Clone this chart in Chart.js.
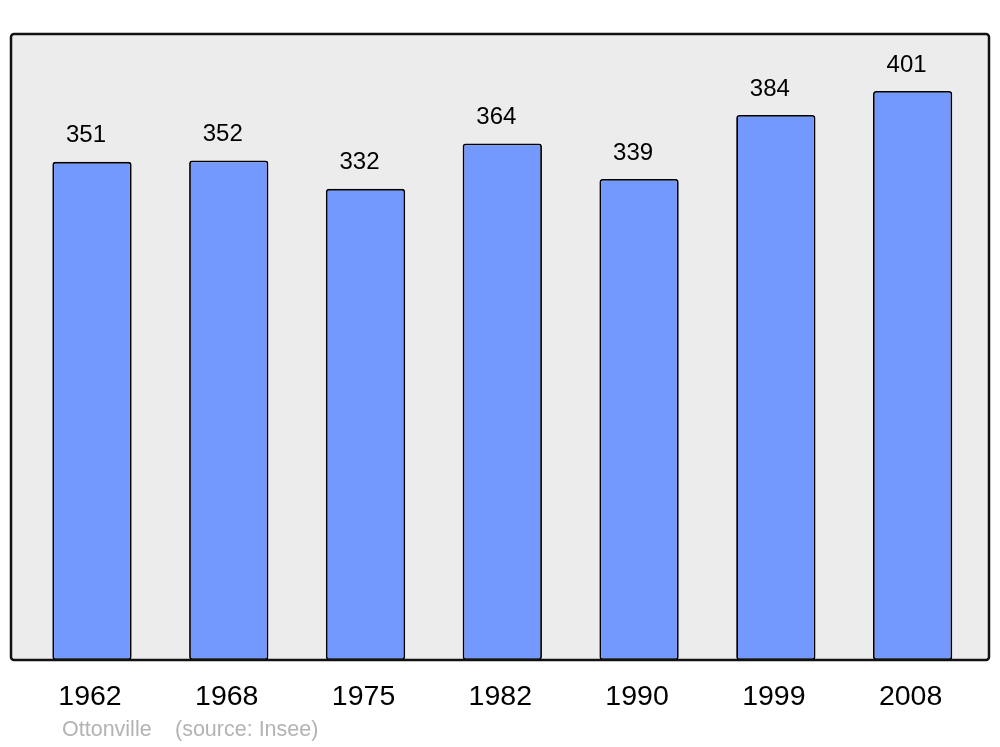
<!DOCTYPE html>
<html>
<head>
<meta charset="utf-8">
<script src="https://cdn.jsdelivr.net/npm/chart.js@4/dist/chart.umd.min.js"></script>
<style>
    html, body { margin: 0; padding: 0; background: #ffffff; }
    #wrap { width: 1000px; height: 747px; }
</style>
</head>
<body>
<div id="wrap"><canvas id="popChart"></canvas></div>
<script>
const years = ['1962', '1968', '1975', '1982', '1990', '1999', '2008'];
const population = [351, 352, 332, 364, 339, 384, 401];
const town = 'Ottonville';
const source = '(source: Insee)';

// grey panel behind the bars, border drawn over them
const framePlugin = {
    id: 'frame',
    beforeDatasetsDraw(chart) {
        const ctx = chart.ctx;
        const a = chart.chartArea;
        ctx.save();
        ctx.beginPath();
        ctx.roundRect(11, a.top, 978, a.bottom - a.top, 3);
        ctx.fillStyle = '#ececec';
        ctx.fill();
        ctx.restore();
    },
    afterDatasetsDraw(chart) {
        const ctx = chart.ctx;
        const a = chart.chartArea;
        ctx.save();
        ctx.beginPath();
        ctx.roundRect(11, a.top, 978, a.bottom - a.top, 3);
        ctx.lineWidth = 2.5;
        ctx.strokeStyle = '#111111';
        ctx.stroke();

        // value labels above bars
        const meta = chart.getDatasetMeta(0);
        ctx.fillStyle = '#000000';
        ctx.font = '24px "Liberation Sans", Arial, sans-serif';
        ctx.textAlign = 'center';
        ctx.textBaseline = 'middle';
        meta.data.forEach((bar, i) => {
            ctx.fillText(String(population[i]), bar.x - 6, bar.y - 26);
        });

        // caption
        ctx.fillStyle = '#b3b3b3';
        ctx.font = '21.5px "Liberation Sans", Arial, sans-serif';
        ctx.textAlign = 'left';
        ctx.fillText(town, 62, 730);
        ctx.fillText(source, 175, 730);
        ctx.restore();
    }
};

new Chart(document.getElementById('popChart'), {
    type: 'bar',
    data: {
        labels: years,
        datasets: [{
            data: population,
            backgroundColor: '#7399ff',
            borderColor: '#000000',
            borderWidth: 1.8,
            borderRadius: 3,
            borderSkipped: false,
            barPercentage: 0.58,
            categoryPercentage: 1
        }]
    },
    options: {
        responsive: true,
        maintainAspectRatio: false,
        animation: false,
        layout: {
            padding: { top: 34, left: 23.6, right: 19, bottom: 0 }
        },
        plugins: {
            legend: { display: false },
            tooltip: { enabled: false }
        },
        scales: {
            x: {
                grid: { display: false, drawTicks: false },
                border: { display: false },
                ticks: {
                    color: '#000000',
                    padding: 20,
                    labelOffset: -2,
                    font: { family: '"Liberation Sans", Arial, sans-serif', size: 28.5 }
                },
                afterFit: scale => { scale.height = 87; }
            },
            y: {
                display: false,
                min: 0,
                max: 441.1
            }
        }
    },
    plugins: [framePlugin]
});
</script>
</body>
</html>
